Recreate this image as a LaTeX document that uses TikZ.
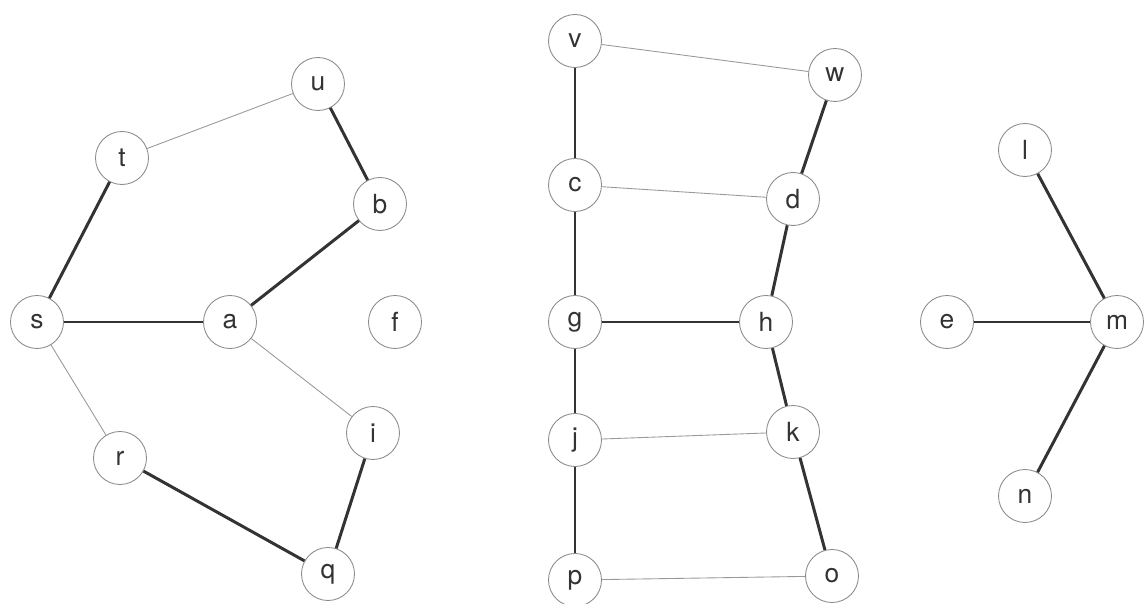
\documentclass[tikz,border=0pt]{standalone}
\usepackage{fontspec}
\setmainfont{TeX Gyre Heros}
\begin{document}
\begin{tikzpicture}[x=0.02cm,y=-0.02cm,
  vert/.style={circle,draw=black!45,line width=0.5pt,minimum size=1.06cm,inner sep=0pt,
    font=\fontsize{15}{18}\selectfont,text=black!80},
  tree/.style={line width=1.7pt,draw=black!80},
  back/.style={line width=0.5pt,draw=black!40}]
\useasboundingbox (0,0) rectangle (1147,604);

% --- Component 1 ---
\node[vert] (s) at (37,322) {s};
\node[vert] (t) at (122,158) {t};
\node[vert] (u) at (318,84) {u};
\node[vert] (b) at (380,204) {b};
\node[vert] (a) at (230,322) {a};
\node[vert] (f) at (395,322) {f};
\node[vert] (i) at (373,433) {i};
\node[vert] (r) at (120,458) {r};
\node[vert] (q) at (328,574) {q};

\draw[tree] (t) -- (s);
\draw[tree] (u) -- (b);
\draw[tree] (b) -- (a);
\draw[tree] (s) -- (a);
\draw[tree] (i) -- (q);
\draw[tree] (r) -- (q);
\draw[back] (t) -- (u);
\draw[back] (s) -- (r);
\draw[back] (a) -- (i);

% --- Component 2 ---
\node[vert] (v) at (575,41) {v};
\node[vert] (w) at (835,75) {w};
\node[vert] (c) at (575,185) {c};
\node[vert] (d) at (793,199) {d};
\node[vert] (g) at (575,322) {g};
\node[vert] (h) at (766,322) {h};
\node[vert] (j) at (575,440) {j};
\node[vert] (k) at (793,432) {k};
\node[vert] (p) at (575,580) {p};
\node[vert] (o) at (832,576) {o};

\draw[tree] (v) -- (c);
\draw[tree] (c) -- (g);
\draw[tree] (g) -- (j);
\draw[tree] (j) -- (p);
\draw[tree] (g) -- (h);
\draw[tree] (w) -- (d);
\draw[tree] (d) -- (h);
\draw[tree] (h) -- (k);
\draw[tree] (k) -- (o);
\draw[back] (v) -- (w);
\draw[back] (c) -- (d);
\draw[back] (j) -- (k);
\draw[back] (p) -- (o);

% --- Component 3 ---
\node[vert] (l) at (1025,150) {l};
\node[vert] (e) at (947,322) {e};
\node[vert] (m) at (1117,322) {m};
\node[vert] (n) at (1025,496) {n};

\draw[tree] (l) -- (m);
\draw[tree] (e) -- (m);
\draw[tree] (m) -- (n);

\end{tikzpicture}
\end{document}
